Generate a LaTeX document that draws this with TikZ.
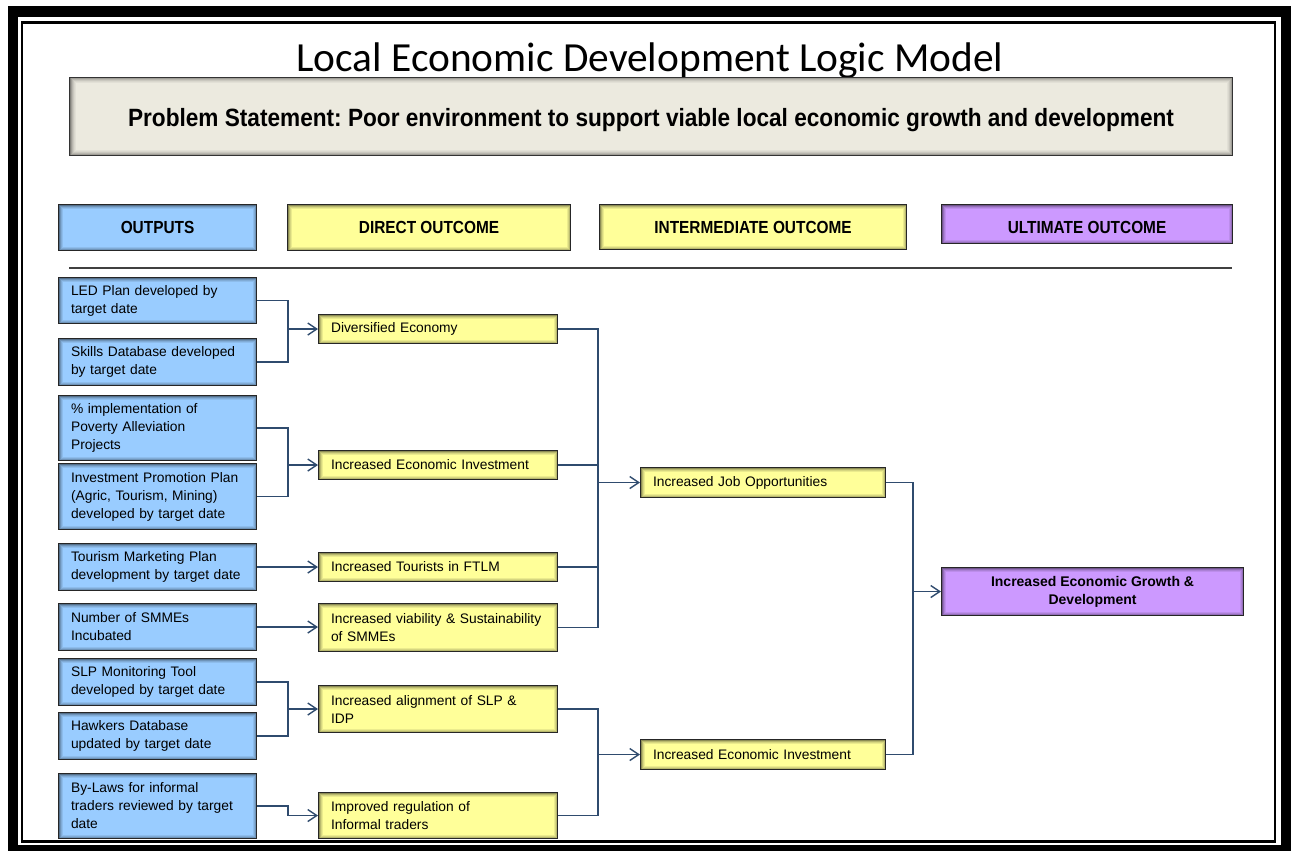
\documentclass[tikz,border=0pt]{standalone}
\usepackage{graphicx}
\usepackage{fontspec}
\setmainfont{Liberation Sans}
\newfontfamily\titlefont{Carlito}
\usetikzlibrary{arrows.meta}
\frenchspacing
\definecolor{outblue}{HTML}{99CCFF}
\definecolor{diryel}{HTML}{FFFF99}
\definecolor{ultpur}{HTML}{CC99FF}
\definecolor{probbg}{HTML}{ECEADF}
\definecolor{linkcol}{HTML}{2F4B6E}
\newcommand\narrowtxt[1]{\scalebox{0.88}[1]{#1}}
\tikzset{
  inshadow/.style={path picture={
    \foreach \d/\op in {0.5pt/0.45,1.5pt/0.28,2.5pt/0.16,3.5pt/0.08}{
      \draw[black,opacity=\op,line width=1pt]
        ([shift={(\d,-\d)}]path picture bounding box.north west) rectangle
        ([shift={(-\d,\d)}]path picture bounding box.south east);
    }}},
  probshadow/.style={path picture={
    \foreach \d/\op in {0.5pt/0.45,1.5pt/0.32,2.5pt/0.22,3.5pt/0.14,4.5pt/0.08,5.5pt/0.04}{
      \draw[black,opacity=\op,line width=1pt]
        ([shift={(\d,-\d)}]path picture bounding box.north west) rectangle
        ([shift={(-\d,\d)}]path picture bounding box.south east);
    }}},
  box/.style={draw=black!85,line width=1.1pt,inshadow,anchor=north west,inner ysep=0pt,inner xsep=12.5pt,font=\fontsize{13.8}{18}\selectfont},
  outbox/.style={box,fill=outblue,text width=173pt,align=left},
  dirbox/.style={box,fill=diryel,text width=214pt,align=left},
  intbox/.style={box,fill=diryel,text width=220pt,align=left},
  headbox/.style={box,inner xsep=0pt,align=center,font=\bfseries\fontsize{17.5}{20}\selectfont},
  link/.style={draw=linkcol,line width=1.4pt},
  arr/.style={link,-{Straight Barb[length=9pt,width=12pt,line width=1.4pt]}},
}
\begin{document}
\begin{tikzpicture}[x=1pt,y=-1pt]
\useasboundingbox (0,0) rectangle (1291,851);
\fill[white] (0,0) rectangle (1291,851);
% frame
\fill[black] (8,6) rectangle (1291,851);
\fill[white] (18,17) rectangle (1281,845);
\draw[black,line width=2.5pt] (22,22.5) rectangle (1275,841.5);

% title
\node[anchor=base,font=\titlefont\fontsize{41.4}{48}\selectfont] (title) at (650,71) {Local Economic Development Logic Model};
\node[draw=black!80,line width=1pt,fill=probbg,probshadow,anchor=north west,minimum width=1163pt,minimum height=78pt,inner sep=0pt,text height=24pt,text depth=4pt,font=\bfseries\fontsize{25}{28}\selectfont] (prob) at (69,77) {\scalebox{0.905}[1]{Problem Statement: Poor environment to support viable local economic growth and development}};

% headers
\node[headbox,fill=outblue,minimum width=198pt,minimum height=46pt] (outH) at (58,204) {\narrowtxt{OUTPUTS}};
\node[headbox,fill=diryel,minimum width=283pt,minimum height=46pt] (dirH) at (287,204) {\narrowtxt{DIRECT OUTCOME}};
\node[headbox,fill=diryel,minimum width=307pt,minimum height=45pt] (intH) at (599,204) {\narrowtxt{INTERMEDIATE OUTCOME}};
\node[headbox,fill=ultpur,minimum width=291pt,minimum height=39pt,text height=19pt,text depth=0pt] (ultH) at (941,204) {\narrowtxt{ULTIMATE OUTCOME}};

\draw[line width=1.5pt,black!75] (69,268) -- (1232,268);

% outputs
\node[outbox,minimum height=46pt] (led) at (58,277) {LED Plan developed by\\target date};
\node[outbox,minimum height=47pt] (skills) at (58,338) {Skills Database developed\\by target date};
\node[outbox,minimum height=65pt] (pov) at (58,395) {\% implementation of\\Poverty Alleviation\\Projects};
\node[outbox,minimum height=66pt] (ipp) at (58,463) {Investment Promotion Plan\\(Agric, Tourism, Mining)\\developed by target date};
\node[outbox,minimum height=47pt] (tmp) at (58,543) {Tourism Marketing Plan\\development by target date};
\node[outbox,minimum height=47pt] (smme) at (58,603) {Number of SMMEs\\Incubated};
\node[outbox,minimum height=47pt] (slp) at (58,658) {SLP Monitoring Tool\\developed by target date};
\node[outbox,minimum height=47pt] (hawk) at (58,712) {Hawkers Database\\updated by target date};
\node[outbox,minimum height=65pt] (bylaw) at (58,773) {By-Laws for informal\\traders reviewed by target\\date};

% direct outcomes
\node[dirbox,minimum height=29pt] (div) at (318,314) {Diversified Economy};
\node[dirbox,minimum height=29pt] (inv1) at (318,450) {Increased Economic Investment};
\node[dirbox,minimum height=29pt] (tour) at (318,552) {Increased Tourists in FTLM};
\node[dirbox,minimum height=48pt] (viab) at (318,603) {Increased viability \& Sustainability\\of SMMEs};
\node[dirbox,minimum height=47pt] (algn) at (318,685) {Increased alignment of SLP \&\\IDP};
\node[dirbox,minimum height=46pt] (reg) at (318,792) {Improved regulation of\\Informal traders};

% intermediate outcomes
\node[intbox,minimum height=30pt] (job) at (640,467) {Increased Job Opportunities};
\node[intbox,minimum height=30pt] (ie2) at (640,739) {Increased Economic Investment};

% ultimate
\node[box,fill=ultpur,inner xsep=0pt,align=center,minimum width=302pt,minimum height=48pt,font=\bfseries\fontsize{14}{18}\selectfont] (ult) at (941,567) {Increased Economic Growth \&\\Development};

% connectors outputs -> direct
\draw[link] (led.east) -| ([xshift=-30pt]div.west);
\draw[link] (skills.east) -| ([xshift=-30pt]div.west);
\draw[arr] ([xshift=-30pt]div.west) -- (div.west);
\draw[link] (pov.east) -| ([xshift=-30pt]inv1.west);
\draw[link] (ipp.east) -| ([xshift=-30pt]inv1.west);
\draw[arr] ([xshift=-30pt]inv1.west) -- (inv1.west);
\draw[arr] (tmp.east) -- (tmp.east -| tour.west);
\draw[arr] (smme.east) -- (smme.east -| viab.west);
\draw[link] (slp.east) -| ([xshift=-30pt]algn.west);
\draw[link] (hawk.east) -| ([xshift=-30pt]algn.west);
\draw[arr] ([xshift=-30pt]algn.west) -- (algn.west);
\draw[arr] (bylaw.east) -| ([xshift=-30pt]reg.west) -- (reg.west);

% direct -> intermediate
\draw[link] (div.east) -| ([xshift=-42pt]job.west);
\draw[link] (inv1.east) -| ([xshift=-42pt]job.west);
\draw[link] (tour.east) -| ([xshift=-42pt]job.west);
\draw[link] (viab.east) -| ([xshift=-42pt]job.west);
\draw[arr] ([xshift=-42pt]job.west) -- (job.west);
\draw[link] (algn.east) -| ([xshift=-42pt]ie2.west);
\draw[link] (reg.east) -| ([xshift=-42pt]ie2.west);
\draw[arr] ([xshift=-42pt]ie2.west) -- (ie2.west);

% intermediate -> ultimate
\draw[link] (job.east) -| ([xshift=-28pt]ult.west);
\draw[link] (ie2.east) -| ([xshift=-28pt]ult.west);
\draw[arr] ([xshift=-28pt]ult.west) -- (ult.west);
\end{tikzpicture}
\end{document}
